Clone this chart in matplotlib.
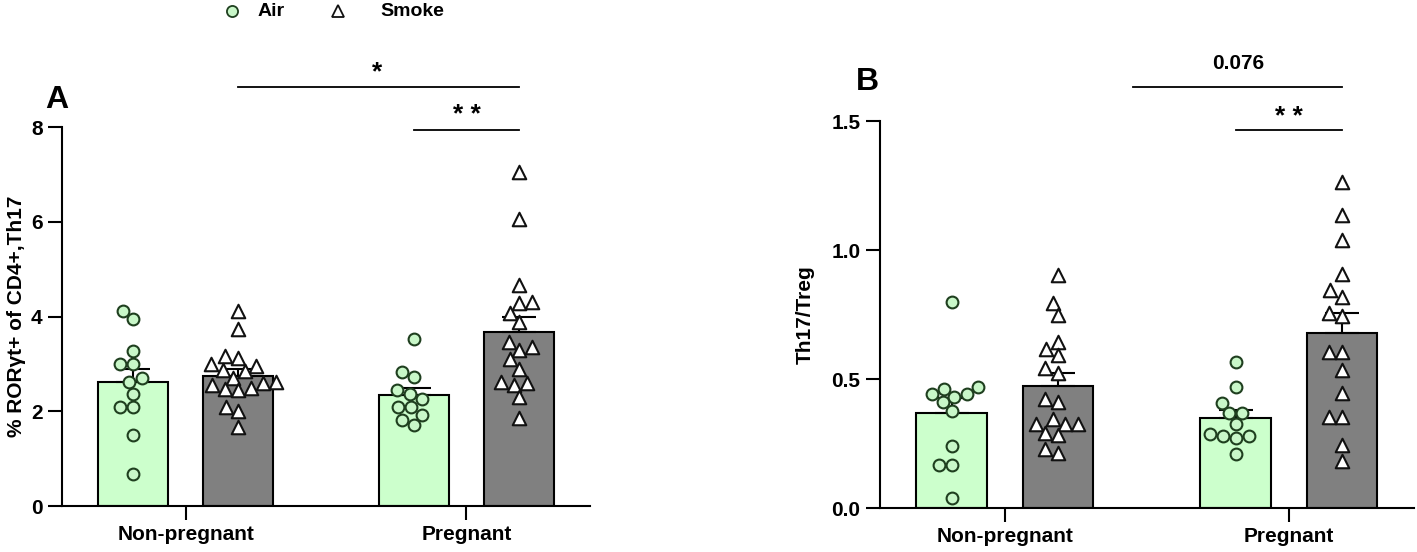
import numpy as np
import matplotlib.pyplot as plt
from matplotlib.lines import Line2D

plt.rcParams['font.family'] = ['Liberation Sans', 'DejaVu Sans']
plt.rcParams['font.weight'] = 'bold'
plt.rcParams['axes.labelweight'] = 'bold'

# ---- data ----
groups = ['Non-pregnant', 'Pregnant']

# panel A: % RORyt+ of CD4+, Th17
air_np_a = [3.95, 4.11, 3.28, 3.0, 3.0, 2.7, 2.62, 2.36, 2.09, 2.09, 1.50, 0.68]
smoke_np_a = [4.12, 3.73, 3.16, 3.13, 3.0, 2.95, 2.88, 2.85, 2.7, 2.62, 2.6, 2.55,
              2.5, 2.48, 2.45, 2.1, 2.0, 1.67]
air_p_a = [3.52, 2.83, 2.72, 2.45, 2.36, 2.26, 2.09, 2.09, 1.92, 1.81, 1.71]
smoke_p_a = [7.05, 6.05, 4.66, 4.30, 4.28, 4.07, 3.88, 3.46, 3.35, 3.29, 3.10, 2.90,
             2.62, 2.60, 2.55, 2.30, 1.86]

# panel B: Th17/Treg
air_np_b = [0.80, 0.47, 0.46, 0.44, 0.44, 0.43, 0.41, 0.375, 0.24, 0.167, 0.167, 0.04]
smoke_np_b = [0.903, 0.795, 0.75, 0.645, 0.615, 0.593, 0.543, 0.525, 0.422, 0.412,
              0.345, 0.326, 0.326, 0.326, 0.292, 0.283, 0.228, 0.214]
air_p_b = [0.567, 0.469, 0.408, 0.368, 0.368, 0.326, 0.287, 0.279, 0.279, 0.271, 0.209]
smoke_p_b = [1.265, 1.136, 1.037, 0.907, 0.845, 0.819, 0.756, 0.745, 0.606, 0.606,
             0.535, 0.447, 0.354, 0.354, 0.244, 0.183]

AIR_FILL = '#ccffcc'
AIR_DOT = '#c8f7c8'
AIR_EDGE = '#1f3f1f'
SMOKE_FILL = '#808080'

OFF = 0.187
BAR_W = 0.249


def beeswarm(ypix, diam):
    # deterministic swarm: push each point sideways until it no longer overlaps
    offs = np.zeros(len(ypix))
    done = []
    for i in np.argsort(ypix):
        found = None
        for k in range(0, 80):
            for s in ([0] if k == 0 else [-1, 1]):
                x = s * k * diam * 0.1
                if all((x - offs[j]) ** 2 + (ypix[i] - ypix[j]) ** 2 >= (diam * 0.97) ** 2 for j in done):
                    found = x
                    break
            if found is not None:
                break
        offs[i] = found
        done.append(i)
    return offs


def draw_points(ax, xc, vals, air):
    vals = np.asarray(vals)
    pts = ax.transData.transform(np.column_stack([np.full(len(vals), xc), vals]))
    offs = beeswarm(pts[:, 1], 13)
    px_per_unit = ax.transData.transform((1, 0))[0] - ax.transData.transform((0, 0))[0]
    xs = xc + offs / px_per_unit
    if air:
        ax.scatter(xs, vals, s=72, marker='o', facecolor=AIR_DOT, edgecolor=AIR_EDGE,
                   linewidth=1.5, zorder=3, clip_on=False)
    else:
        ax.scatter(xs, vals, s=95, marker='^', facecolor='white', edgecolor='#111111',
                   linewidth=1.5, zorder=3, clip_on=False)


def draw_panel(ax, air_sets, smoke_sets, ylim, yticks, ylabel, fmt, label_x):
    ax.set_xlim(-0.44, 1.44)
    ax.set_ylim(*ylim)
    for i, (av, sv) in enumerate(zip(air_sets, smoke_sets)):
        for xc, vals, fill, air in [(i - OFF, av, AIR_FILL, True), (i + OFF, sv, SMOKE_FILL, False)]:
            m = np.mean(vals)
            sem = np.std(vals, ddof=1) / np.sqrt(len(vals))
            ax.bar(xc, m, width=BAR_W, color=fill, edgecolor='black', linewidth=1.5, zorder=1)
            ax.errorbar(xc, m, yerr=[[0], [sem]], fmt='none', ecolor='black', elinewidth=1.5,
                        capsize=12.5, capthick=1.5, zorder=2)
            draw_points(ax, xc, vals, air)
    for s in ['top', 'right']:
        ax.spines[s].set_visible(False)
    for s in ['left', 'bottom']:
        ax.spines[s].set_linewidth(1.5)
    ax.set_xticks([0, 1])
    ax.set_xticklabels(groups)
    ax.set_yticks(yticks)
    ax.set_yticklabels([fmt.format(t) for t in yticks])
    ax.tick_params(length=10, width=1.5, labelsize=15, pad=4)
    ax.set_ylabel(ylabel, fontsize=15)
    ax.yaxis.set_label_coords(label_x, 0.5)


fig = plt.figure(figsize=(14.17, 5.52), dpi=100)
axA = fig.add_axes([0.0438, 0.0833, 0.3726, 0.6866])
axB = fig.add_axes([0.621, 0.0797, 0.3768, 0.701])

draw_panel(axA, [air_np_a, air_p_a], [smoke_np_a, smoke_p_a], (0, 8), [0, 2, 4, 6, 8],
           '% RORγt+ of CD4+,Th17', '{:.0f}', -0.068)
draw_panel(axB, [air_np_b, air_p_b], [smoke_np_b, smoke_p_b], (0, 1.5), [0, 0.5, 1.0, 1.5],
           'Th17/Treg', '{:.1f}', -0.122)

# significance brackets
axA.plot([OFF, 1 + OFF], [8.84, 8.84], color='black', lw=1.3, clip_on=False)
axA.text(0.68, 9.15, '*', ha='center', va='center', fontsize=19)
axA.plot([1 - OFF, 1 + OFF], [7.93, 7.93], color='black', lw=1.3, clip_on=False)
axA.text(1.0, 8.25, '* *', ha='center', va='center', fontsize=19)

axB.plot([0.45, 1 + OFF], [1.632, 1.632], color='black', lw=1.3, clip_on=False)
axB.text(0.82, 1.725, '0.076', ha='center', va='center', fontsize=15)
axB.plot([1 - OFF, 1 + OFF], [1.465, 1.465], color='black', lw=1.3, clip_on=False)
axB.text(1.0, 1.515, '* *', ha='center', va='center', fontsize=19)

fig.text(57 / 1417, 1 - 100 / 552, 'A', fontsize=23, ha='center', va='center')
fig.text(867 / 1417, 1 - 82 / 552, 'B', fontsize=23, ha='center', va='center')

# legend along the top, placed by hand
W, H = 1417, 552
ly = 1 - 11 / H
fig.add_artist(Line2D([232 / W], [ly], marker='o', ls='', mfc=AIR_DOT, mec=AIR_EDGE,
                      ms=8, mew=1.3, transform=fig.transFigure))
fig.text(258 / W, ly, 'Air', fontsize=14, ha='left', va='center')
fig.add_artist(Line2D([338 / W], [ly], marker='^', ls='', mfc='white', mec='#111111',
                      ms=8, mew=1.3, transform=fig.transFigure))
fig.text(380 / W, ly, 'Smoke', fontsize=14, ha='left', va='center')

fig.savefig('out.png', dpi=100)
